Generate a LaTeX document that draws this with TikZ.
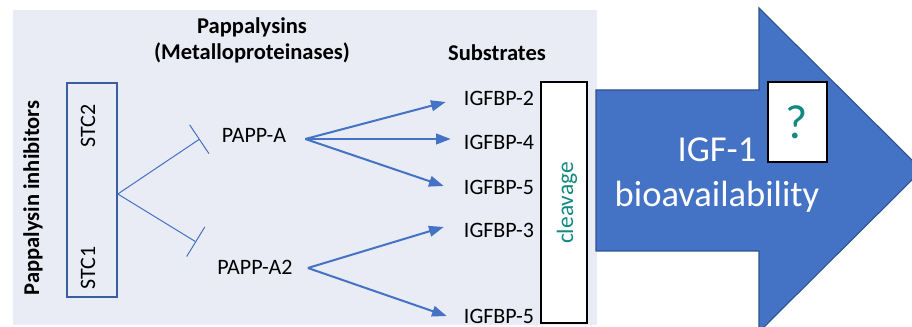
\documentclass[tikz,border=0pt]{standalone}
\usepackage{fontspec}
\setmainfont{Carlito}
\usetikzlibrary{arrows.meta}
\definecolor{panelbg}{RGB}{233,235,245}
\definecolor{linkblue}{RGB}{68,114,196}
\definecolor{boxblue}{RGB}{58,95,160}
\definecolor{arrowedge}{RGB}{47,82,143}
\definecolor{tealtxt}{RGB}{18,137,128}
\tikzset{
  lbl/.style={inner sep=0pt, font=\fontsize{16.5}{18}\selectfont},
  head/.style={inner sep=0pt, font=\bfseries\fontsize{16.9}{19}\selectfont},
  act/.style={linkblue, line width=1.5pt, -{Triangle[length=11pt,width=8pt]}},
  inhib/.style={linkblue, line width=0.75pt, -{Bar[width=26pt,line width=0.75pt]}},
}
\begin{document}
\begin{tikzpicture}[x=0.75pt,y=-0.75pt]
\useasboundingbox (0,0) rectangle (912,327);
\clip (0,0) rectangle (912,327);
\fill[white] (0,0) rectangle (912,327);
% left panel
\fill[panelbg] (13,10) rectangle (597,325);
% big output arrow
\draw[fill=linkblue, draw=arrowedge, line width=0.8pt]
  (596,90) -- (759,90) -- (759,8) -- (922,170) -- (759,332) -- (759,251) -- (596,251) -- cycle;
% headings
\node[head] (hpap) at (252,27) {Pappalysins};
\node[head] (hmet) at (252,53) {(Metalloproteinases)};
\node[head] (hsub) at (497,53) {Substrates};
\node[head, rotate=90] (hinh) at (33,198) {Pappalysin inhibitors};
% inhibitor box
\node[draw=boxblue, line width=1.2pt, minimum width=50*0.75pt, minimum height=214*0.75pt, inner sep=0pt] (stc) at (92,190) {};
\node[lbl, rotate=90] (stc2) at (88,126) {STC2};
\node[lbl, rotate=90] (stc1) at (88,268) {STC1};
% enzymes
\node[lbl] (pa) at (254,135) {PAPP-A};
\node[lbl] (pa2) at (255,267) {PAPP-A2};
% substrates
\node[lbl] (b2) at (499,98) {IGFBP-2};
\node[lbl] (b4) at (499,142) {IGFBP-4};
\node[lbl] (b5) at (499,187) {IGFBP-5};
\node[lbl] (b3) at (499,230) {IGFBP-3};
\node[lbl] (b5b) at (499,316) {IGFBP-5};
% cleavage box
\node[draw=black, fill=white, line width=0.8pt, minimum width=46*0.75pt, minimum height=241*0.75pt, inner sep=0pt] (clv) at (564,202.5) {};
\node[inner sep=0pt, rotate=90, text=tealtxt, font=\fontsize{17.6}{19}\selectfont] (clvt) at (567,203) {cleavage};
% output arrow text
\node[inner sep=0pt, text=white, font=\fontsize{27.4}{30}\selectfont] (igf) at (717,150) {IGF-1};
\node[inner sep=0pt, text=white, font=\fontsize{27.4}{30}\selectfont] (bio) at (717,197) {bioavailability};
\node[draw=black, fill=white, line width=0.8pt, minimum width=59*0.75pt, minimum height=80*0.75pt, inner sep=0pt] (qbox) at (797.5,122) {};
\node[inner sep=0pt, text=tealtxt, font=\fontsize{36}{38}\selectfont] (q) at (797,122) {?};
% inhibition links
\coordinate (stcout) at ([shift={(0,4)}]stc.east);
\draw[inhib] (stcout) -- ([shift={(-22,4)}]pa.west);
\draw[inhib] (stcout) -- ([shift={(-21,-25)}]pa2.west);
% cleavage links
\coordinate (paout) at ([shift={(19,4)}]pa.east);
\coordinate (pa2out) at ([shift={(15,1)}]pa2.east);
\draw[act] (paout) -- ([shift={(-18,4)}]b2.west);
\draw[act] (paout) -- ([shift={(-13,-3)}]b4.west);
\draw[act] (paout) -- ([shift={(-20,-1)}]b5.west);
\draw[act] (pa2out) -- ([shift={(-20,-3)}]b3.west);
\draw[act] (pa2out) -- ([shift={(-17,0)}]b5b.west);
\end{tikzpicture}
\end{document}
